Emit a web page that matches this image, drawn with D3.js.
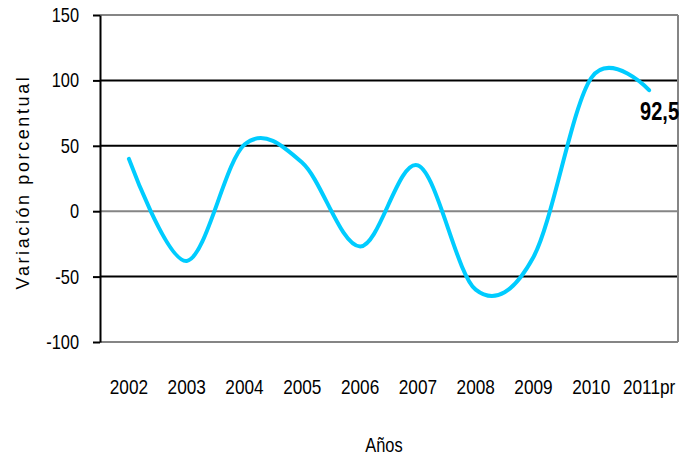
<!DOCTYPE html>
<html><head><meta charset="utf-8">
<script src="https://cdn.jsdelivr.net/npm/d3@7"></script>
<style>body{margin:0;background:#fff}svg{display:block}</style>
</head><body>
<svg id="chart" width="695" height="457"></svg>
<script>
const categories = ["2002","2003","2004","2005","2006","2007","2008","2009","2010","2011pr"];
const values = [40, -38, 51, 37, -27, 35, -60, -35, 102, 92.5];
const yTicks = [-100, -50, 0, 50, 100, 150];
const lastLabel = "92,5";
const yTitle = "Variación porcentual";
const xTitle = "Años";

const svg = d3.select("#chart");
const W = 695, H = 457;
const m = {left:100, right:17, top:15, bottom:115};
const x = d3.scaleBand().domain(categories).range([m.left, W - m.right]);
const y = d3.scaleLinear().domain([-100, 150]).range([H - m.bottom, m.top]);
const FONT = "'Liberation Sans', Arial, sans-serif";
const SX = 0.82;

// gridlines
const grayVals = new Set([150, 0, -100]);
svg.append("g").selectAll("line").data(yTicks).join("line")
  .attr("x1", m.left).attr("x2", W - m.right)
  .attr("y1", d => y(d)).attr("y2", d => y(d))
  .attr("stroke", d => grayVals.has(d) ? "#858585" : "#000")
  .attr("stroke-width", 2);
// right border
svg.append("line").attr("x1", W - m.right).attr("x2", W - m.right)
  .attr("y1", y(150)).attr("y2", y(-100)).attr("stroke", "#858585").attr("stroke-width", 2);

// y axis
const ya = svg.append("g").attr("transform", `translate(${m.left},0)`)
  .call(d3.axisLeft(y).tickValues(yTicks).tickSize(7).tickSizeOuter(0).tickPadding(14).tickFormat(d => String(d)));
ya.select(".domain").attr("stroke", "#000").attr("stroke-width", 2);
ya.selectAll(".tick line").attr("stroke", "#000").attr("stroke-width", 2);
ya.selectAll(".tick text").each(function(){
  const t = d3.select(this); const tx = +t.attr("x");
  t.attr("x", 0).attr("transform", `translate(${tx},0) scale(${SX},1)`)
   .attr("font-family", FONT).attr("font-size", 20).attr("fill", "#000");
});

// x labels
const xa = svg.append("g").attr("transform", `translate(0,${y(-100)})`)
  .call(d3.axisBottom(x).tickSize(0).tickPadding(0));
xa.select(".domain").remove();
xa.selectAll(".tick text").each(function(){
  const t = d3.select(this);
  t.attr("y", 0).attr("dy", 0).attr("transform", `translate(0,52) scale(${SX},1)`)
   .attr("font-family", FONT).attr("font-size", 21).attr("fill", "#000");
});

// line
const line = d3.line()
  .x((d, i) => x(categories[i]) + x.bandwidth() / 2)
  .y(d => y(d))
  .curve(d3.curveCardinal.tension(0));
svg.append("path").datum(values).attr("d", line)
  .attr("fill", "none").attr("stroke", "#00CCFF").attr("stroke-width", 4)
  .attr("stroke-linecap", "round");

// end label
const lx = x(categories[categories.length - 1]) + x.bandwidth() / 2;
svg.append("text").attr("transform", `translate(${lx - 9},${y(values[values.length-1]) + 30}) scale(0.8,1)`)
  .attr("font-family", FONT).attr("font-weight", "bold").attr("font-size", 25).attr("fill", "#000")
  .text(lastLabel);

// titles
svg.append("text").attr("transform", `translate(29,182) rotate(-90)`)
  .attr("text-anchor", "middle").attr("font-family", FONT).attr("font-size", 18)
  .attr("letter-spacing", 2.6).attr("fill", "#000")
  .text(yTitle);
svg.append("text").attr("transform", `translate(384,452) scale(${SX},1)`)
  .attr("text-anchor", "middle").attr("font-family", FONT).attr("font-size", 20).attr("fill", "#000")
  .text(xTitle);
</script>
</body></html>
